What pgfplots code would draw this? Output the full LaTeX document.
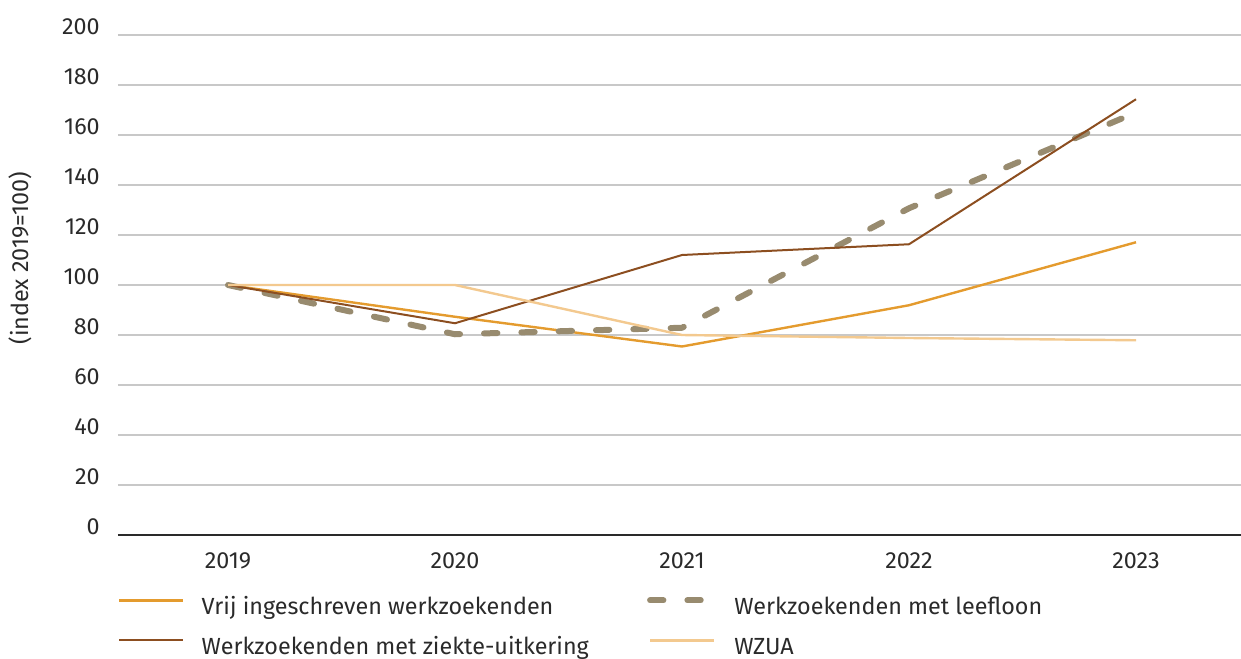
\documentclass[border=0pt]{standalone}
\usepackage{fontspec}
\setmainfont{Fira Sans}
\usepackage{pgfplots}
\pgfplotsset{compat=1.18}
\definecolor{cVrij}{HTML}{E49B2E}
\definecolor{cZiek}{HTML}{8C4E20}
\definecolor{cLeef}{HTML}{988B6F}
\definecolor{cWzua}{HTML}{F3C98F}
\definecolor{cGrid}{HTML}{C8C8C8}
\definecolor{cText}{HTML}{2A2A2A}
\begin{document}
\begin{tikzpicture}
\fontsize{17.5}{21}\selectfont
\begin{axis}[
  scale only axis, width=842.25pt, height=375pt,
  xmin=-0.4846, xmax=4.4626, ymin=0, ymax=200,
  xtick={0,1,2,3,4}, xticklabels={2019,2020,2021,2022,2023},
  ytick={0,20,...,200},
  ymajorgrids, major grid style={draw=cGrid, line width=0.8pt},
  axis x line*=bottom, axis y line*=left,
  y axis line style={draw=none},
  x axis line style={draw=cText, line width=0.9pt},
  major tick length=0pt,
  /pgf/number format/assume math mode=true,
  tick label style={font=\fontsize{17.5}{21}\selectfont, text=cText},
  yticklabel style={anchor=east, inner sep=0pt, xshift=-13.5pt, yshift=6.5pt},
  xticklabel style={anchor=north, inner sep=0pt, yshift=-13pt},
  ylabel={(index 2019=100)},
  ylabel style={at={(axis description cs:-0.0873,0.554)}, anchor=center, font=\fontsize{17.5}{21}\selectfont, text=cText},
  legend columns=2,
  legend style={at={(rel axis cs:0,0)}, anchor=north west, yshift=-46.5pt, draw=none, fill=none,
    inner sep=0pt, outer sep=0pt, row sep=13pt, column sep=0pt,
    font=\fontsize{17.5}{21}\selectfont, text=cText,
    nodes={inner sep=0pt, text height=13pt, text depth=4pt}},
  legend cell align=left,
  legend image code/.code={\draw[#1] (0pt,6pt)--(48pt,6pt); \path (61pt,6pt);},
]
\addplot[cVrij, line width=1.8pt] coordinates {(0,100)(1,87.3)(2,75.4)(3,91.9)(4,117.1)};
\addlegendentry{\makebox[334pt][l]{Vrij ingeschreven werkzoekenden}}
\addplot[cLeef, line width=4.5pt, line cap=round, dash pattern=on 10pt off 18pt] coordinates {(0,100)(1,80.3)(2,82.9)(3,130.7)(4,169)};
\addlegendentry{Werkzoekenden met leefloon}
\addplot[cZiek, line width=1.5pt] coordinates {(0,100)(1,84.7)(2,112)(3,116.3)(4,174.3)};
\addlegendentry{\makebox[334pt][l]{Werkzoekenden met ziekte-uitkering}}
\addplot[cWzua, line width=1.8pt] coordinates {(0,100)(1,100)(2,80)(3,78.8)(4,77.9)};
\addlegendentry{WZUA}
\coordinate (O) at (rel axis cs:0,0);
\end{axis}
\pgfresetboundingbox
\path ([xshift=-88.5pt,yshift=-92.25pt]O) rectangle ([xshift=842.25pt,yshift=401.25pt]O);
\end{tikzpicture}
\end{document}
